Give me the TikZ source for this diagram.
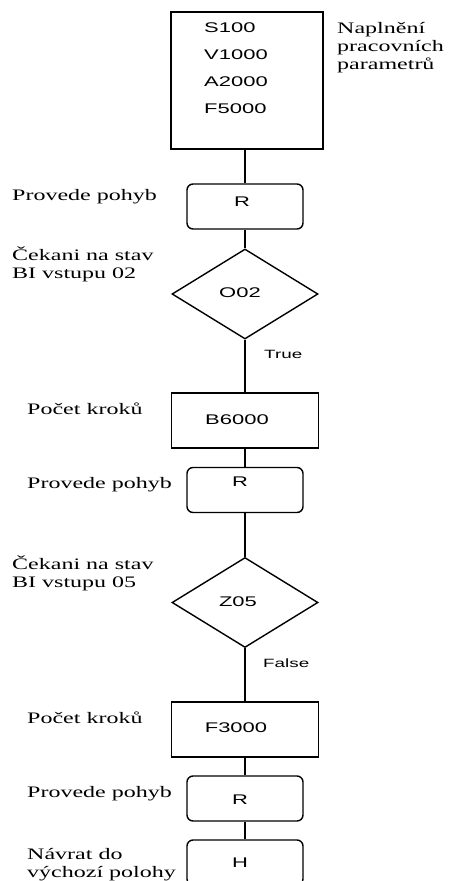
\documentclass[tikz,border=0pt]{standalone}
\usepackage{fontspec}
\newfontfamily\boxfont[FakeStretch=1.57]{Liberation Sans}
\newfontfamily\notefont[FakeStretch=1.5]{Liberation Serif}
\usetikzlibrary{shapes.geometric}

\tikzset{
  box/.style={draw, line width=1.4pt, rectangle, inner sep=0pt},
  stepbox/.style={box, rounded corners=6pt, minimum width=116pt, minimum height=45pt},
  numbox/.style={box, minimum width=147pt, minimum height=55pt},
  decision/.style={draw, line width=1.4pt, diamond, inner sep=0pt, minimum width=146pt, minimum height=90pt},
  code/.style={font=\boxfont\fontsize{14}{27}\selectfont, inner sep=0pt, anchor=base},
  note/.style={font=\notefont\fontsize{16}{18}\selectfont, inner sep=0pt, anchor=base west, align=left},
  branch/.style={font=\boxfont\fontsize{12}{14}\selectfont, inner sep=0pt, anchor=base west},
  wire/.style={line width=1.4pt}
}

\begin{document}
\begin{tikzpicture}[x=1pt, y=-1pt]
  \useasboundingbox (0,0) rectangle (448,881);

  % Parameter block (multi-line notes sit on their last baseline)
  \node[box, minimum width=152pt, minimum height=137pt] (params) at (247,80.5) {};
  \foreach \val [count=\i] in {S100,V1000,A2000,F5000}
    \node[code, anchor=base west] (par\i) at (204,5+27*\i) {\val};
  \node[note] (paramsnote) at (337,69) {Naplnění\\pracovních\\parametrů};

  % Steps
  \node[stepbox] (r1) at (245,206.5) {};
  \node[decision] (o02) at (245,294) {};
  \node[numbox] (b6000) at (245,420.5) {};
  \node[stepbox] (r2) at (245,490) {};
  \node[decision] (z05) at (245,602.5) {};
  \node[numbox] (f3000) at (245,729.5) {};
  \node[stepbox] (r3) at (245,798.5) {};
  \node[stepbox] (h) at (245,862.5) {};

  % Commands
  \node[code] (r1txt) at (242,206) {R};
  \node[code] (o02txt) at (240,297) {O02};
  \node[code] (b6000txt) at (237,424) {B6000};
  \node[code] (r2txt) at (240,486) {R};
  \node[code] (z05txt) at (238,606) {Z05};
  \node[code] (f3000txt) at (236,732) {F3000};
  \node[code] (r3txt) at (240,804) {R};
  \node[code] (htxt) at (240,867) {H};

  % Descriptions
  \node[note] (r1note) at (12,200) {Provede pohyb};
  \node[note] (o02note) at (12,278) {Čekani na stav\\BI vstupu 02};
  \node[note] (b6000note) at (27,414) {Počet kroků};
  \node[note] (r2note) at (27,488) {Provede pohyb};
  \node[note] (z05note) at (12,587) {Čekani na stav\\BI vstupu 05};
  \node[note] (f3000note) at (27,723) {Počet kroků};
  \node[note] (r3note) at (27,797) {Provede pohyb};
  \node[note] (hnote) at (27,877) {Návrat do\\výchozí polohy};

  % Flow
  \draw[wire] (params.south -| r1.north) -- (r1.north);
  \draw[wire] (r1) -- (o02);
  \draw[wire] (o02) -- (b6000);
  \draw[wire] (b6000) -- (r2);
  \draw[wire] (r2) -- (z05);
  \draw[wire] (z05) -- (f3000);
  \draw[wire] (f3000) -- (r3);
  \draw[wire] (r3) -- (h);
  \node[branch] (true) at (264,358) {True};
  \node[branch] (false) at (263,667) {False};
\end{tikzpicture}
\end{document}
